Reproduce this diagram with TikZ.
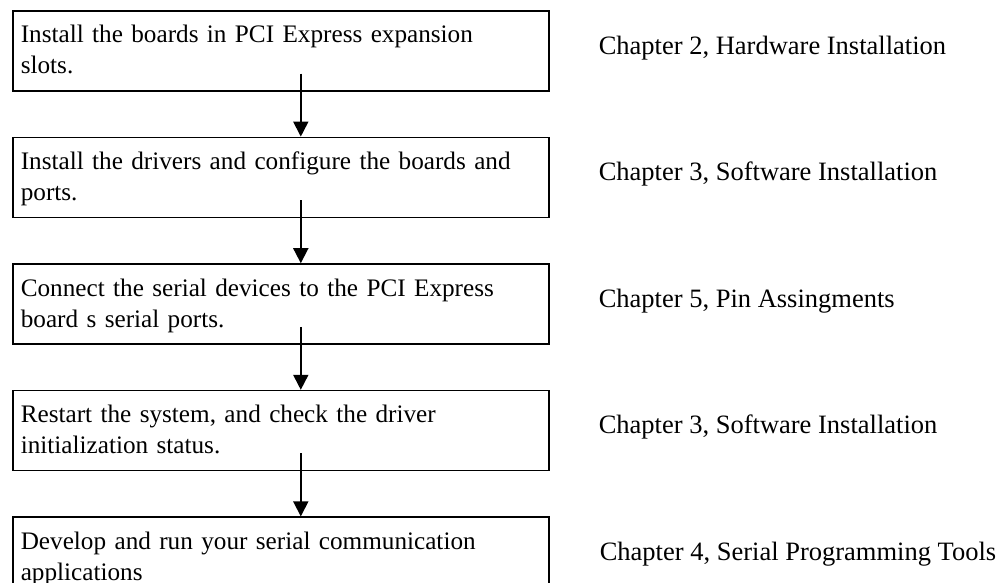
\documentclass[tikz,border=0pt]{standalone}
\usepackage{fontspec}
\setmainfont{Liberation Serif}
\usetikzlibrary{positioning,arrows.meta}

\begin{document}
\begin{tikzpicture}[
  x=1pt, y=-1pt,
  stepbox/.style={draw, line width=1.6pt, minimum width=536pt, minimum height=80pt,
    inner xsep=8pt, inner ysep=0pt, text width=520pt, align=left,
    text height=32pt, text depth=48pt, font=\fontsize{25.2}{31}\selectfont},
  chap/.style={anchor=base west, inner sep=0pt, font=\fontsize{26.5}{32}\selectfont},
  arr/.style={-{Triangle[length=15pt, width=15pt]}, line width=1.8pt},
]
\useasboundingbox (0,0) rectangle (1005,582);

% --- Steps ---
\node[stepbox, anchor=north west] (inst) at (12,10) {Install the boards in PCI Express expansion\\slots.};
\node[stepbox, below=45pt of inst] (drv) {Install the drivers and configure the boards and\\ports.};
\node[stepbox, below=45pt of drv] (conn) {Connect the serial devices to the PCI Express\\board s serial ports.};
\node[stepbox, below=45pt of conn] (rst) {Restart the system, and check the driver\\initialization status.};
\node[stepbox, below=45pt of rst] (dev) {Develop and run your serial communication\\applications};

% --- Chapter references ---
\node[chap] (c2) at ([xshift=49pt, yshift=-44pt]inst.north east) {Chapter 2, Hardware Installation};
\node[chap] (c3a) at ([xshift=49pt, yshift=-44pt]drv.north east) {Chapter 3, Software Installation};
\node[chap] (c5) at ([xshift=49pt, yshift=-44pt]conn.north east) {Chapter 5, Pin Assingments};
\node[chap] (c3b) at ([xshift=49pt, yshift=-44pt]rst.north east) {Chapter 3, Software Installation};
\node[chap] (c4) at ([xshift=50pt, yshift=-44pt]dev.north east) {Chapter 4, Serial Programming Tools};

% --- Flow ---
\draw[arr] ([xshift=20pt, yshift=18pt]inst.south) -- ([xshift=20pt]drv.north);
\draw[arr] ([xshift=20pt, yshift=18pt]drv.south) -- ([xshift=20pt]conn.north);
\draw[arr] ([xshift=20pt, yshift=18pt]conn.south) -- ([xshift=20pt]rst.north);
\draw[arr] ([xshift=20pt, yshift=18pt]rst.south) -- ([xshift=20pt]dev.north);

\end{tikzpicture}
\end{document}
